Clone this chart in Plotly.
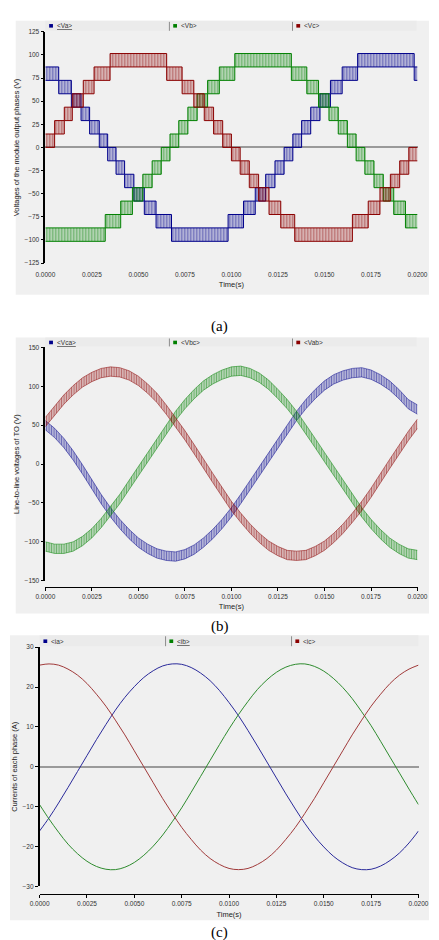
import plotly.graph_objects as go

W, H = 439, 940


def px(x):
    return x / W


def py(y):
    return 1 - y / H


# ---------------- Panel (a): module output phase voltages (multilevel bands) ----------------
level_step_v = 14.5  # height of one voltage level band (V)

t_va_ms = [0, 0.72, 1.40, 1.92, 2.38, 2.90, 3.35, 3.80, 4.26, 4.76, 5.32, 5.95, 6.78, 9.82, 10.65,
           11.28, 11.84, 12.34, 12.83, 13.30, 13.77, 14.26, 14.76, 15.32, 15.95, 16.78, 19.82, 20.0]
lo_va = [72.5, 58, 43.5, 29, 14.5, 0, -14.5, -29, -43.5, -58, -72.5, -87, -101.5, -87, -72.5,
         -58, -43.5, -29, -14.5, 0, 14.5, 29, 43.5, 58, 72.5, 87, 72.5, 72.5]

t_vb_ms = [0, 3.22, 4.05, 4.68, 5.24, 5.74, 6.23, 6.70, 7.17, 7.66, 8.16, 8.72, 9.35, 10.18, 13.22,
           14.05, 14.68, 15.24, 15.74, 16.23, 16.70, 17.17, 17.66, 18.16, 18.72, 19.35, 20.0]
lo_vb = [-101.5, -87, -72.5, -58, -43.5, -29, -14.5, 0, 14.5, 29, 43.5, 58, 72.5, 87, 72.5,
         58, 43.5, 29, 14.5, 0, -14.5, -29, -43.5, -58, -72.5, -87, -87]

t_vc_ms = [0, 0.50, 1.02, 1.45, 2.04, 2.62, 3.48, 6.52, 7.35, 7.98, 8.54, 9.04, 9.53, 10.0, 10.47,
           10.96, 11.46, 12.02, 12.65, 13.40, 16.50, 17.35, 17.98, 18.54, 19.04, 19.53, 20.0]
lo_vc = [0, 14.5, 29, 43.5, 58, 72.5, 87, 72.5, 58, 43.5, 29, 14.5, 0, -14.5, -29,
         -43.5, -58, -72.5, -87, -101.5, -87, -72.5, -58, -43.5, -29, -14.5, -14.5]

# ---------------- Shared time grid for panels (b) and (c) ----------------
t_ms = [0, 0.5, 1.0, 1.5, 2.0, 2.5, 3.0, 3.5, 4.0, 4.5, 5.0, 5.5, 6.0, 6.5, 7.0, 7.5, 8.0, 8.5,
        9.0, 9.5, 10.0, 10.5, 11.0, 11.5, 12.0, 12.5, 13.0, 13.5, 14.0, 14.5, 15.0, 15.5, 16.0,
        16.5, 17.0, 17.5, 18.0, 18.5, 19.0, 19.5, 20.0]

# ---------------- Panel (b): line-to-line voltages ----------------
v_ca = [50, 40, 27, 11, -7, -26, -45, -62, -77, -90, -101, -109, -115, -118, -119, -116, -110,
        -101, -90, -77, -62, -45, -27, -9, 9, 27, 45, 62, 77, 90, 101, 109, 114, 117, 118, 115,
        109, 101, 90, 77, 70]
v_bc = [-106, -109, -109, -106, -99, -89, -76, -61, -45, -27, -9, 9, 27, 45, 62, 77, 90, 101,
        109, 115, 119, 120, 117, 111, 102, 90, 77, 62, 45, 27, 9, -9, -27, -45, -62, -77, -90,
        -101, -109, -115, -117]
v_ab = [54, 69, 83, 95, 105, 112, 117, 119, 118, 114, 107, 97, 85, 70, 54, 37, 19, 0, -18, -36,
        -54, -69, -83, -95, -105, -112, -117, -118, -117, -112, -105, -95, -83, -69, -54, -37,
        -18, 0, 18, 36, 52]

# ---------------- Panel (c): phase currents ----------------
i_a = [-16.1, -12.8, -9.1, -5.2, -1.2, 2.8, 6.8, 10.6, 14.2, 17.4, 20.1, 22.4, 24.1, 25.3, 25.8,
       25.7, 24.9, 23.5, 21.6, 19.1, 16.1, 12.8, 9.1, 5.2, 1.2, -2.8, -6.8, -10.6, -14.2, -17.4,
       -20.1, -22.4, -24.1, -25.3, -25.8, -25.7, -24.9, -23.5, -21.6, -19.1, -16.1]
i_b = [-9.5, -13.1, -16.4, -19.4, -21.8, -23.7, -25.0, -25.7, -25.8, -25.2, -24.0, -22.2, -19.9,
       -17.1, -13.8, -10.3, -6.4, -2.4, 1.6, 5.6, 9.5, 13.1, 16.4, 19.4, 21.8, 23.7, 25.0, 25.7,
       25.8, 25.2, 24.0, 22.2, 19.9, 17.1, 13.8, 10.3, 6.4, 2.4, -1.6, -5.6, -9.5]
i_c = [25.5, 25.8, 25.5, 24.5, 23.0, 20.9, 18.2, 15.2, 11.7, 8.0, 4.0, 0.0, -4.0, -8.0, -11.7,
       -15.2, -18.2, -20.9, -23.0, -24.5, -25.5, -25.8, -25.5, -24.5, -23.0, -20.9, -18.2, -15.2,
       -11.7, -8.0, -4.0, 0.0, 4.0, 8.0, 11.7, 15.2, 18.2, 20.9, 23.0, 24.5, 25.5]

legend_a = ["<Va>", "<Vb>", "<Vc>"]
legend_b = ["<Vca>", "<Vbc>", "<Vab>"]
legend_c = ["<ia>", "<ib>", "<ic>"]
x_ticks = [0, 0.0025, 0.005, 0.0075, 0.01, 0.0125, 0.015, 0.0175, 0.02]

BLUE = "#00008B"
GREEN = "#008000"
RED = "#8B0000"
TINT = {BLUE: "rgba(0,0,139,0.12)", GREEN: "rgba(0,128,0,0.12)", RED: "rgba(139,0,0,0.12)"}

fig = go.Figure()


def s(ms_list):
    return [v / 1000.0 for v in ms_list]


def band_traces(t_list, lo_list, color, xa, ya):
    hi_list = [v + level_step_v for v in lo_list]
    fig.add_trace(go.Scatter(x=s(t_list), y=lo_list, mode="lines", line=dict(color=color, width=1, shape="hv"),
                             xaxis=xa, yaxis=ya, showlegend=False, hoverinfo="skip"))
    fig.add_trace(go.Scatter(x=s(t_list), y=hi_list, mode="lines", line=dict(color=color, width=1, shape="hv"),
                             fill="tonexty", fillcolor=TINT[color],
                             fillpattern=dict(shape="|", fgcolor=color, size=3, solidity=0.55, fillmode="overlay"),
                             xaxis=xa, yaxis=ya, showlegend=False, hoverinfo="skip"))


band_traces(t_va_ms, lo_va, BLUE, "x", "y")
band_traces(t_vb_ms, lo_vb, GREEN, "x", "y")
band_traces(t_vc_ms, lo_vc, RED, "x", "y")

ribbon_half = 6


def ribbon_traces(vals, color, xa, ya):
    fig.add_trace(go.Scatter(x=s(t_ms), y=[v - ribbon_half for v in vals], mode="lines",
                             line=dict(color=color, width=0.5), xaxis=xa, yaxis=ya, showlegend=False,
                             hoverinfo="skip"))
    fig.add_trace(go.Scatter(x=s(t_ms), y=[v + ribbon_half for v in vals], mode="lines",
                             line=dict(color=color, width=0.5), fill="tonexty", fillcolor=TINT[color],
                             fillpattern=dict(shape="|", fgcolor=color, size=2.5, solidity=0.55, fillmode="overlay"),
                             xaxis=xa, yaxis=ya, showlegend=False, hoverinfo="skip"))


ribbon_traces(v_ca, BLUE, "x2", "y2")
ribbon_traces(v_bc, GREEN, "x2", "y2")
ribbon_traces(v_ab, RED, "x2", "y2")

for vals, color in [(i_a, "#2a2a9a"), (i_b, "#2e8b2e"), (i_c, "#a03a3a")]:
    fig.add_trace(go.Scatter(x=s(t_ms), y=vals, mode="lines", line=dict(color=color, width=1, shape="spline"),
                             xaxis="x3", yaxis="y3", showlegend=False, hoverinfo="skip"))

FONT = "Liberation Sans, Arial, sans-serif"
tickfont = dict(family=FONT, size=6.5, color="#333333")
titlefont = dict(family=FONT, size=7.5, color="#222222")


def xaxis_cfg(x0, x1, pos, line):
    return dict(domain=[px(x0), px(x1)], range=[0, 0.02], anchor="free", position=pos,
                tickvals=x_ticks, tickformat=".4f", tickfont=tickfont,
                showline=line, linecolor="black", linewidth=1.2,
                ticks="outside" if line else "", ticklen=3, tickcolor="black",
                showgrid=False, zeroline=False,
                title=dict(text="Time(s)", font=titlefont, standoff=5))


def yaxis_cfg(y0, y1, rng, dtick, xa, title, zl):
    return dict(domain=[py(y1), py(y0)], range=rng, dtick=dtick, anchor=xa,
                tickfont=tickfont, showline=True, linecolor="black", linewidth=1.5,
                ticks="outside", ticklen=3, tickcolor="black", showgrid=False,
                zeroline=zl, zerolinecolor="#9a9a9a", zerolinewidth=1.5,
                title=dict(text=title, font=titlefont, standoff=4))


shapes = []
annotations = []


def panel(x_left, y_top, y_bot, x_plot0, x_plot1, y_plot_top, seps):
    shapes.append(dict(type="rect", xref="paper", yref="paper", x0=px(x_left), x1=px(439),
                       y0=py(y_bot), y1=py(y_top), fillcolor="#f0f0f0", line=dict(width=0), layer="below"))
    shapes.append(dict(type="rect", xref="paper", yref="paper", x0=px(x_plot0), x1=px(x_plot1),
                       y0=py(y_plot_top - 1), y1=py(y_top), fillcolor="#ebebeb",
                       line=dict(width=0), layer="below"))
    for sx in seps:
        shapes.append(dict(type="line", xref="paper", yref="paper", x0=px(sx), x1=px(sx),
                           y0=py(y_plot_top - 1), y1=py(y_top + 1), line=dict(color="#8c8c8c", width=1)))


panel(6, 17, 293, 37, 426, 28, [167, 296])
panel(6, 336, 614, 37, 426, 346, [167, 296])
panel(0, 636, 923, 31, 428, 648, [163, 295])


def legend_items(names, sq_xs, y_mid, underline_idx):
    for i, (name, color, sx) in enumerate(zip(names, [BLUE, GREEN, RED], sq_xs)):
        shapes.append(dict(type="rect", xref="paper", yref="paper", x0=px(sx), x1=px(sx + 4),
                           y0=py(y_mid + 1.8), y1=py(y_mid - 1.8), fillcolor=color, line=dict(width=0)))
        txt = name.replace("<", "&lt;").replace(">", "&gt;")
        if i == underline_idx:
            txt = '<span style="text-decoration:underline">' + txt + "</span>"
        annotations.append(dict(xref="paper", yref="paper", x=px(sx + 6), y=py(y_mid), text=txt,
                                showarrow=False, xanchor="left", yanchor="middle",
                                font=dict(family=FONT, size=6.5, color="#333333")))


legend_items(legend_a, [41, 171, 300], 22, 0)
legend_items(legend_b, [41, 171, 300], 341, 0)
legend_items(legend_c, [35, 167, 299], 642, 1)

for label, yc in [("(a)", 325), ("(b)", 627), ("(c)", 935)]:
    annotations.append(dict(xref="paper", yref="paper", x=px(219.5), y=py(yc), text=label, showarrow=False,
                            xanchor="center", yanchor="middle",
                            font=dict(family="Liberation Serif, Times New Roman, serif", size=15, color="black")))

fig.update_layout(
    width=W, height=H, margin=dict(l=0, r=0, t=0, b=0),
    paper_bgcolor="white", plot_bgcolor="white",
    xaxis=xaxis_cfg(37, 427, py(267), False),
    yaxis=yaxis_cfg(28, 261, [-125, 125], 25, "x", "Voltages of the module output phases (V)", True),
    xaxis2=xaxis_cfg(37, 427, py(587), True),
    yaxis2=yaxis_cfg(346, 581, [-150, 150], 50, "x2", "Line-to-line voltages of TO (V)", False),
    xaxis3=xaxis_cfg(31, 428, py(897), True),
    yaxis3=yaxis_cfg(648, 889, [-30, 30], 10, "x3", "Currents of each phase (A)", True),
    shapes=shapes, annotations=annotations, showlegend=False,
)

fig.write_html("out.html")
